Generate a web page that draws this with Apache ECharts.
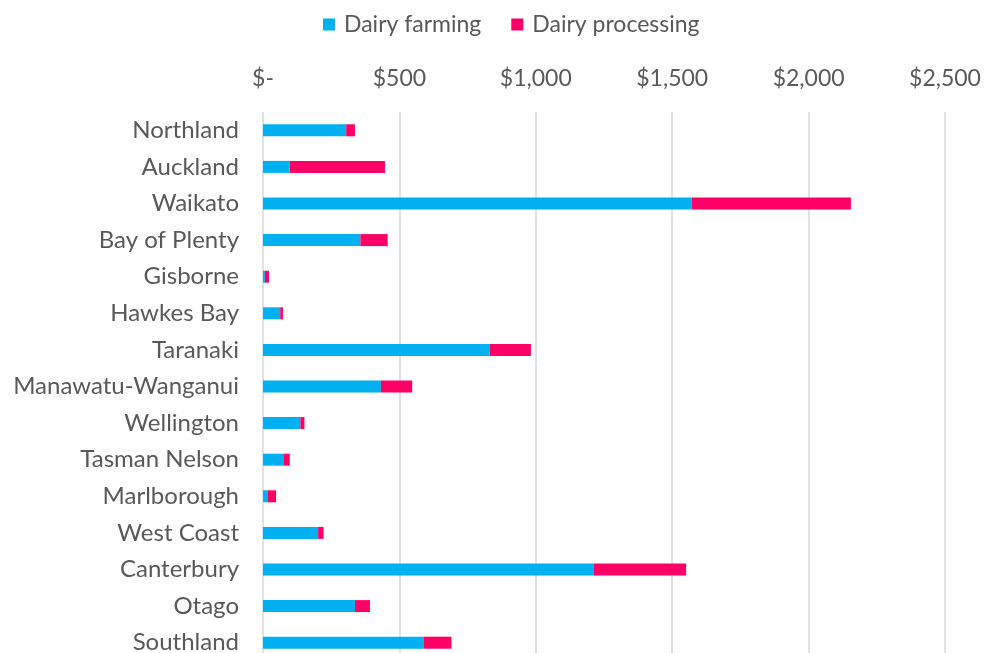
<!DOCTYPE html>
<html>
<head>
<meta charset="utf-8">
<script src="https://cdn.jsdelivr.net/npm/echarts@6/dist/echarts.min.js"></script>
<style>
  html, body { margin: 0; padding: 0; background: #fff; }
  #chart { width: 988px; height: 653px; }
</style>
</head>
<body>
<div id="chart"></div>
<script>
// regions, top to bottom
const regions = ['Northland', 'Auckland', 'Waikato', 'Bay of Plenty', 'Gisborne', 'Hawkes Bay', 'Taranaki',
  'Manawatu-Wanganui', 'Wellington', 'Tasman Nelson', 'Marlborough', 'West Coast', 'Canterbury', 'Otago', 'Southland']
const dairyFarming = [305, 98, 1571, 357, 7, 63, 831, 432, 137, 77, 16, 202, 1211, 337, 588]
const dairyProcessing = [32, 349, 584, 100, 15, 10, 151, 115, 15, 21, 32, 20, 340, 55, 103]
const xTicks = [0, 500, 1000, 1500, 2000, 2500]

const font = 'Lato, "Open Sans", sans-serif'
const chart = echarts.init(document.getElementById('chart'))
chart.setOption({
  animation: false,
  legend: {
    top: 8,
    left: 318,
    itemWidth: 12,
    itemHeight: 12,
    itemGap: 30,
    icon: 'rect',
    textStyle: { fontFamily: font, fontSize: 23, color: '#595959', padding: [0, 0, 0, 4] },
    data: ['Dairy farming', 'Dairy processing']
  },
  // the plot runs a little past the bottom edge, as in the original crop
  grid: { left: 263, right: 43, top: 112, height: 549, containLabel: false, outerBoundsMode: 'none' },
  xAxis: {
    type: 'value',
    position: 'top',
    min: xTicks[0],
    max: xTicks[xTicks.length - 1],
    interval: 500,
    axisLine: { show: false },
    axisTick: { show: false },
    splitLine: { lineStyle: { color: '#d9d9d9', width: 1.5 } },
    axisLabel: {
      margin: 22,
      fontFamily: font,
      fontSize: 23,
      color: '#595959',
      formatter: function (v) {
        return v === 0 ? '$-' : '$' + v.toLocaleString('en-US')
      }
    }
  },
  yAxis: {
    type: 'category',
    inverse: true,
    data: regions,
    axisLine: { show: false },
    axisTick: { show: false },
    axisLabel: { margin: 24, fontFamily: font, fontSize: 24, color: '#595959' }
  },
  series: [
    {
      name: 'Dairy farming',
      type: 'bar',
      stack: 'total',
      barWidth: 12,
      itemStyle: { color: '#00B0F0' },
      data: dairyFarming
    },
    {
      name: 'Dairy processing',
      type: 'bar',
      stack: 'total',
      barWidth: 12,
      itemStyle: { color: '#FF0066' },
      data: dairyProcessing
    }
  ]
})
</script>
</body>
</html>
